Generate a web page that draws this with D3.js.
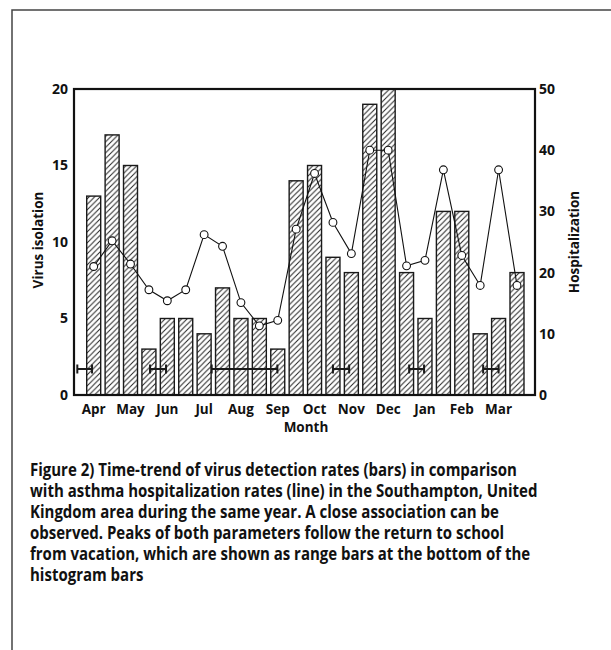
<!DOCTYPE html>
<html>
<head>
<meta charset="utf-8">
<script src="https://cdn.jsdelivr.net/npm/d3@7"></script>
<style>
  body { margin: 0; background: #fff; }
  svg { display: block; font-family: "Open Sans", sans-serif; }
</style>
</head>
<body>
<div id="chart"></div>
<script>
// half-month slots, Apr .. Mar
const months = ["Apr", "May", "Jun", "Jul", "Aug", "Sep", "Oct", "Nov", "Dec", "Jan", "Feb", "Mar"];
const virusIsolation = [13, 17, 15, 3, 5, 5, 4, 7, 5, 5, 3, 14, 15, 9, 8, 19, 20, 8, 5, 12, 12, 4, 5, 8];
const hospitalization = [21, 25.2, 21.4, 17.2, 15.4, 17.2, 26.2, 24.3, 15.1, 11.3, 12.2, 27.1,
  36.2, 28.2, 23.1, 40, 40, 21.1, 22, 36.8, 22.8, 17.9, 36.8, 17.9];
// return to school from vacation, in slot units (slot centres 0..23)
const schoolStart = [-0.89, 3.06, 6.41, 13.0, 17.14, 21.16];
const schoolEnd = [-0.09, 3.93, 9.98, 13.88, 17.95, 22.0];
const leftTicks = [0, 5, 10, 15, 20];
const rightTicks = [0, 10, 20, 30, 40, 50];
const caption = [
  "Figure 2) Time-trend of virus detection rates (bars) in comparison",
  "with asthma hospitalization rates (line) in the Southampton, United",
  "Kingdom area during the same year. A close association can be",
  "observed. Peaks of both parameters follow the return to school",
  "from vacation, which are shown as range bars at the bottom of the",
  "histogram bars"
];

const width = 611, height = 650;
const plot = { left: 74, right: 535, top: 89, bottom: 395 };

const svg = d3.select("#chart").append("svg")
  .attr("width", width)
  .attr("height", height);

// hatch pattern
const defs = svg.append("defs");
defs.append("pattern")
  .attr("id", "hatch")
  .attr("patternUnits", "userSpaceOnUse")
  .attr("width", 5.5)
  .attr("height", 5.5)
  .append("path")
  .attr("d", "M-1,1 l2,-2 M0,5.5 l5.5,-5.5 M4.5,6.5 l2,-2")
  .attr("stroke", "#222")
  .attr("stroke-width", 1);

// outer frame of the figure
svg.append("path")
  .attr("d", `M12,${height + 2} V10 H${width + 2}`)
  .attr("fill", "none")
  .attr("stroke", "#444")
  .attr("stroke-width", 1.5);

const x = d3.scaleBand()
  .domain(d3.range(virusIsolation.length))
  .range([84.5, 526.2])
  .paddingInner(0.24)
  .paddingOuter(0.12);

const xSlot = d3.scaleLinear()
  .domain([0, virusIsolation.length - 1])
  .range([x(0) + x.bandwidth() / 2, x(virusIsolation.length - 1) + x.bandwidth() / 2]);

const yL = d3.scaleLinear().domain([0, 20]).range([plot.bottom, plot.top]);
const yR = d3.scaleLinear().domain([0, 50]).range([plot.bottom, plot.top]);

// bars
svg.append("g")
  .selectAll("rect")
  .data(virusIsolation)
  .join("rect")
  .attr("x", (d, i) => x(i))
  .attr("y", d => yL(d))
  .attr("width", x.bandwidth())
  .attr("height", d => yL(0) - yL(d))
  .attr("fill", "url(#hatch)")
  .attr("stroke", "#1a1a1a")
  .attr("stroke-width", 1.4);

// school return range bars
const ranges = schoolStart.map((s, i) => [s, schoolEnd[i]]);
const rg = svg.append("g")
  .attr("stroke", "#1a1a1a")
  .attr("stroke-width", 2)
  .attr("fill", "none");
const ry = yL(1.7);
rg.selectAll("path")
  .data(ranges)
  .join("path")
  .attr("d", d => {
    const a = xSlot(d[0]), b = xSlot(d[1]);
    return `M${a},${ry - 4.5} V${ry + 4.5} M${a},${ry} H${b} M${b},${ry - 4.5} V${ry + 4.5}`;
  });

// hospitalization line
const line = d3.line()
  .x((d, i) => xSlot(i))
  .y(d => yR(d));

svg.append("path")
  .datum(hospitalization)
  .attr("d", line)
  .attr("fill", "none")
  .attr("stroke", "#111")
  .attr("stroke-width", 1.1);

svg.append("g")
  .selectAll("circle")
  .data(hospitalization)
  .join("circle")
  .attr("cx", (d, i) => xSlot(i))
  .attr("cy", d => yR(d))
  .attr("r", 3.9)
  .attr("fill", "#fff")
  .attr("stroke", "#111")
  .attr("stroke-width", 1.1);

// plot frame
svg.append("rect")
  .attr("x", plot.left)
  .attr("y", plot.top)
  .attr("width", plot.right - plot.left)
  .attr("height", plot.bottom - plot.top)
  .attr("fill", "none")
  .attr("stroke", "#111")
  .attr("stroke-width", 2.2);

// axes
const left = svg.append("g")
  .attr("transform", `translate(${plot.left},0)`)
  .call(d3.axisLeft(yL).tickValues(leftTicks).tickSize(0).tickPadding(6));
const right = svg.append("g")
  .attr("transform", `translate(${plot.right},0)`)
  .call(d3.axisRight(yR).tickValues(rightTicks).tickSize(0).tickPadding(4));
const bottom = svg.append("g")
  .attr("transform", `translate(0,${plot.bottom})`)
  .call(d3.axisBottom(x)
    .tickValues(d3.range(0, virusIsolation.length, 2))
    .tickFormat(i => months[i / 2])
    .tickSize(0)
    .tickPadding(9));

[left, right, bottom].forEach(g => {
  g.select(".domain").remove();
  g.selectAll("text")
    .attr("font-family", "'Open Sans', sans-serif")
    .attr("fill", "#111");
});
left.selectAll("text").attr("font-size", 14).attr("font-weight", 700);
right.selectAll("text").attr("font-size", 14).attr("font-weight", 700);
bottom.selectAll("text").attr("font-size", 13.5).attr("font-weight", 700);

// axis titles
svg.append("text")
  .attr("transform", "translate(38,240) rotate(-90)")
  .attr("text-anchor", "middle")
  .attr("dy", "0.35em")
  .attr("font-size", 13.5)
  .attr("font-weight", 700)
  .attr("fill", "#111")
  .text("Virus isolation");

svg.append("text")
  .attr("transform", "translate(574,242) rotate(-90)")
  .attr("text-anchor", "middle")
  .attr("dy", "0.35em")
  .attr("font-size", 13.5)
  .attr("font-weight", 700)
  .attr("fill", "#111")
  .text("Hospitalization");

svg.append("text")
  .attr("x", 306)
  .attr("y", 432)
  .attr("text-anchor", "middle")
  .attr("font-size", 13.5)
  .attr("font-weight", 700)
  .attr("fill", "#111")
  .text("Month");

// caption
const cap = svg.append("g");
cap.selectAll("text")
  .data(caption)
  .join("text")
  .attr("x", 0)
  .attr("y", (d, i) => 476 + i * 21)
  .attr("font-size", 17)
  .attr("font-weight", 700)
  .attr("fill", "#111")
  .text(d => d);

const w2 = cap.selectAll("text").nodes()[1].getComputedTextLength();
const k = 508 / w2;
cap.attr("transform", `translate(30,0) scale(${k},1)`);
</script>
</body>
</html>
